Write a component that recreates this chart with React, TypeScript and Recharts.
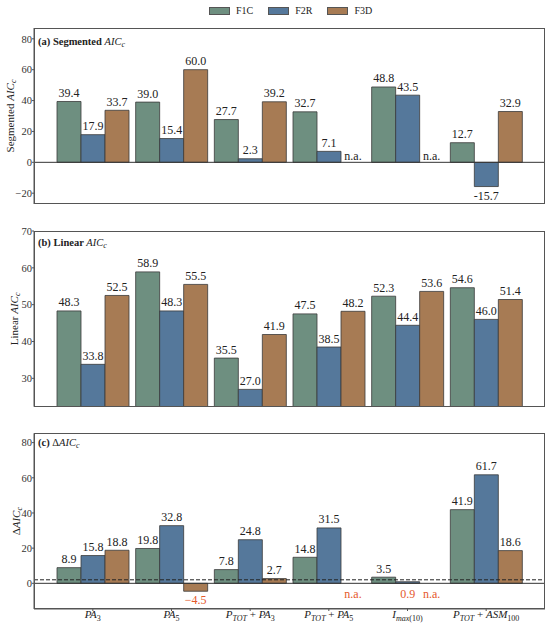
import { BarChart, Bar, XAxis, YAxis, ReferenceLine, LabelList, Rectangle } from "recharts";

const categories = ["PA3", "PA5", "PTOT+PA3", "PTOT+PA5", "Imax(10)", "PTOT+ASM100"];
const seriesNames = ["F1C", "F2R", "F3D"];

// (a) segmented AICc
const segF1C = [39.4, 39.0, 27.7, 32.7, 48.8, 12.7];
const segF2R = [17.9, 15.4, 2.3, 7.1, 43.5, -15.7];
const segF3D = [33.7, 60.0, 39.2, null, null, 32.9];

// (b) linear AICc
const linF1C = [48.3, 58.9, 35.5, 47.5, 52.3, 54.6];
const linF2R = [33.8, 48.3, 27.0, 38.5, 44.4, 46.0];
const linF3D = [52.5, 55.5, 41.9, 48.2, 53.6, 51.4];

// (c) delta AICc
const delF1C = [8.9, 19.8, 7.8, 14.8, 3.5, 41.9];
const delF2R = [15.8, 32.8, 24.8, 31.5, 0.9, 61.7];
const delF3D = [18.8, -4.5, 2.7, null, null, 18.6];

const segTicks = [-20, 0, 20, 40, 60, 80];
const linTicks = [30, 40, 50, 60, 70];
const delTicks = [0, 20, 40, 60, 80];
const THRESH = 2;

// tick label pieces: i = italic, s = subscript, si = italic subscript, n = normal
const tickLabels = [
  [["PA", "i"], ["3", "s"]],
  [["PA", "i"], ["5", "s"]],
  [["P", "i"], ["TOT", "si"], [" + ", "n"], ["PA", "i"], ["3", "s"]],
  [["P", "i"], ["TOT", "si"], [" + ", "n"], ["PA", "i"], ["5", "s"]],
  [["I", "i"], ["max", "si"], ["(10)", "s"]],
  [["P", "i"], ["TOT", "si"], [" + ", "n"], ["ASM", "i"], ["100", "s"]],
];

const COLORS = ["#6e8f80", "#55789b", "#a77b54"];
const RED = "#e5592c";
const INK = "#222";
const FONT = "Liberation Serif";

const fmt = (v: number | null, minus: string) =>
  v == null ? "n.a." : v < 0 ? minus + Math.abs(v).toFixed(1) : v.toFixed(1);

const makeRows = (a: (number | null)[], b: (number | null)[], c: (number | null)[], minus: string) =>
  categories.map((cat, i) => ({
    cat,
    f1c: a[i] ?? 0,
    f2r: b[i] ?? 0,
    f3d: c[i] ?? 0,
    l1: fmt(a[i], minus),
    l2: fmt(b[i], minus),
    l3: fmt(c[i], minus),
  }));

const segRows = makeRows(segF1C, segF2R, segF3D, "-");
const linRows = makeRows(linF1C, linF2R, linF3D, "-");
const delRows = makeRows(delF1C, delF2R, delF3D, "\u2212");

const makeLabel = (mode: string) => (props: any) => {
  const vb = props.viewBox ?? props;
  const x = Number(props.x ?? vb.x);
  const y = Number(props.y ?? vb.y);
  const w = Number(props.width ?? vb.width);
  const h = Number(props.height ?? vb.height);
  const s = String(props.value);
  const v = s === "n.a." ? null : parseFloat(s.replace("\u2212", "-"));
  const top = Math.min(y, y + h);
  const bot = Math.max(y, y + h);
  let ty = top - 4.5;
  let color = INK;
  if (mode === "del" && (v === null || v < THRESH)) {
    color = RED;
    ty = bot + (v !== null && v < 0 ? 12.5 : 15);
  } else if (v === null) {
    ty = bot - 2;
  } else if (v < 0) {
    ty = bot + 13;
  }
  return (
    <text x={x + w / 2} y={ty} textAnchor="middle" fontSize={12} fill={color} fontFamily={FONT}>
      {s}
    </text>
  );
};

// hide the placeholder bar of a missing (n.a.) value, keep its label
const barShape = (labelKey: string) => (p: any) =>
  p.payload && p.payload[labelKey] === "n.a." ? <g /> : <Rectangle {...p} />;

const minusFmt = (v: number) => (v < 0 ? "\u2212" + Math.abs(v) : String(v));

function YTitle({ viewBox, pre, cx }: any) {
  const cy = viewBox.y + viewBox.height / 2;
  return (
    <text
      x={cx}
      y={cy}
      transform={`rotate(-90 ${cx} ${cy})`}
      textAnchor="middle"
      dominantBaseline="central"
      fontSize={11}
      fill={INK}
      fontFamily={FONT}
    >
      {pre}
      <tspan fontStyle="italic">AIC</tspan>
      <tspan fontStyle="italic" fontSize={8} dy={2.5}>c</tspan>
    </text>
  );
}

function CatTick({ x, y, payload }: any) {
  const idx = categories.indexOf(payload.value);
  const parts = tickLabels[idx] ?? [];
  let inSub = false;
  return (
    <text x={x} y={y + 5} textAnchor="middle" fontSize={11} fill={INK} fontFamily={FONT}>
      {parts.map(([t, st], k) => {
        const sub = st === "s" || st === "si";
        const dy = sub && !inSub ? 3 : !sub && inSub ? -3 : 0;
        inSub = sub;
        return (
          <tspan
            key={k}
            dy={dy}
            fontSize={sub ? 8 : 11}
            fontStyle={st === "i" || st === "si" ? "italic" : "normal"}
          >
            {t}
          </tspan>
        );
      })}
    </text>
  );
}

function Panel({ data, height, margin, domain, ticks, mode, pre, titleX, bottomLabels }: any) {
  const pad = { left: 19.5, right: 19.5 };
  const axisStroke = "#555";
  const xh = bottomLabels ? 18 : 0;
  const yw = 34;
  return (
    <div style={{ position: "relative", width: 550, height }}>
      <BarChart width={550} height={height} data={data} margin={margin} barCategoryGap={3.5} barGap={0}>
        <XAxis
          dataKey="cat"
          padding={pad}
          height={xh}
          interval={0}
          tickSize={2}
          tickMargin={2}
          stroke={axisStroke}
          tick={bottomLabels ? <CatTick /> : false}
        />
        <YAxis
          width={yw}
          domain={domain}
          ticks={ticks}
          allowDataOverflow
          tickSize={2}
          tickMargin={0}
          stroke={axisStroke}
          tickFormatter={minusFmt}
          tick={{ fontSize: 10.5, fill: "#333", fontFamily: FONT }}
          label={(p: any) => <YTitle {...p} pre={pre} cx={titleX} />}
        />
        {mode !== "lin" && <ReferenceLine y={0} stroke="#333" strokeWidth={1} />}
        {mode === "del" && <ReferenceLine y={THRESH} stroke="#222" strokeWidth={1} strokeDasharray="4 2" />}
        {["f1c", "f2r", "f3d"].map((k, i) => (
          <Bar
            key={k}
            dataKey={k}
            name={seriesNames[i]}
            fill={COLORS[i]}
            stroke="#3a3a3a"
            strokeWidth={0.8}
            minPointSize={1}
            shape={barShape("l" + (i + 1))}
            isAnimationActive={false}
          >
            <LabelList dataKey={"l" + (i + 1)} content={makeLabel(mode)} />
          </Bar>
        ))}
      </BarChart>
      {/* plot frame */}
      <div
        style={{
          position: "absolute",
          left: margin.left + yw,
          top: margin.top,
          width: 550 - margin.left - yw - margin.right,
          height: height - margin.top - margin.bottom - xh,
          border: "1px solid #555",
          boxSizing: "border-box",
          pointerEvents: "none",
        }}
      />
    </div>
  );
}

function PanelTitle({ top, tag, word, delta }: any) {
  return (
    <div
      style={{
        position: "absolute",
        left: 38,
        top,
        fontFamily: FONT,
        fontSize: 10.5,
        color: INK,
        lineHeight: 1,
        whiteSpace: "nowrap",
      }}
    >
      <b>{tag} {word}</b>
      {delta && "\u0394"}
      <i>AIC</i>
      <i style={{ fontSize: 8, position: "relative", top: 2 }}>c</i>
    </div>
  );
}

export default function App() {
  return (
    <div style={{ position: "absolute", left: 0, top: 0, width: 550, height: 627, background: "#fff" }}>
      {/* Legend */}
      <div
        style={{
          position: "absolute",
          left: 209,
          top: 6,
          display: "flex",
          gap: 15,
          fontFamily: FONT,
          fontSize: 10,
          color: INK,
          lineHeight: 1,
        }}
      >
        {seriesNames.map((n, i) => (
          <div key={n} style={{ display: "flex", alignItems: "center", gap: 6 }}>
            <span
              style={{
                width: 19,
                height: 6,
                background: COLORS[i],
                border: "1px solid #555",
                display: "inline-block",
              }}
            />
            {n}
          </div>
        ))}
      </div>

      <div style={{ position: "absolute", left: 0, top: 0 }}>
        <Panel
          data={segRows}
          height={210}
          margin={{ top: 28, right: 5, left: 0, bottom: 6 }}
          domain={[-27, 87]}
          ticks={segTicks}
          mode="seg"
          pre="Segmented "
          titleX={10}
        />
      </div>
      <div style={{ position: "absolute", left: 0, top: 210 }}>
        <Panel
          data={linRows}
          height={200}
          margin={{ top: 21, right: 5, left: 0, bottom: 3.3 }}
          domain={[22.3, 70]}
          ticks={linTicks}
          mode="lin"
          pre="Linear "
          titleX={14.5}
        />
      </div>
      <div style={{ position: "absolute", left: 0, top: 410 }}>
        <Panel
          data={delRows}
          height={217}
          margin={{ top: 23.3, right: 5, left: 0, bottom: 0 }}
          domain={[-14.6, 85.3]}
          ticks={delTicks}
          mode="del"
          pre={"\u0394"}
          titleX={16.5}
          bottomLabels
        />
      </div>

      <PanelTitle top={37} tag="(a)" word="Segmented " />
      <PanelTitle top={238} tag="(b)" word="Linear " />
      <PanelTitle top={438} tag="(c)" word="" delta />
    </div>
  );
}
